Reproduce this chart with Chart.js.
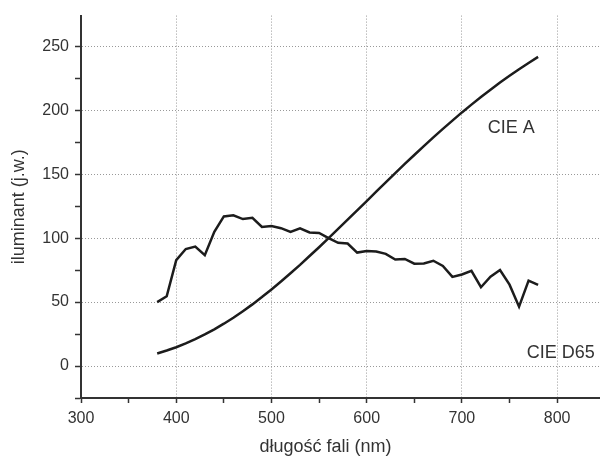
<!DOCTYPE html>
<html>
<head>
<meta charset="utf-8">
<script src="https://cdn.jsdelivr.net/npm/chart.js@4"></script>
<style>
  html, body { margin: 0; padding: 0; background: #fff; }
</style>
</head>
<body>
<canvas id="chart" width="600" height="457"></canvas>
<script>
// wavelengths, nm
const wavelengths = [380, 390, 400, 410, 420, 430, 440, 450, 460, 470, 480, 490, 500, 510, 520, 530, 540, 550, 560, 570,
    580, 590, 600, 610, 620, 630, 640, 650, 660, 670, 680, 690, 700, 710, 720, 730, 740, 750, 760, 770, 780];

const cieA = [9.8, 12.1, 14.7, 17.7, 21.0, 24.7, 28.7, 33.1, 37.8, 42.9, 48.2, 53.9, 59.9, 66.1, 72.5, 79.1, 86.0, 92.9, 100.0, 107.2,
    114.4, 121.7, 129.0, 136.4, 143.6, 150.8, 158.0, 165.0, 172.0, 178.8, 185.4, 191.9, 198.3, 204.4, 210.4, 216.1, 221.7, 227.0, 232.1, 237.0, 241.7];

const cieD65 = [50.0, 54.6, 82.8, 91.5, 93.4, 86.7, 104.9, 117.0, 117.8, 114.9, 115.9, 108.8, 109.4, 107.8, 104.8, 107.7, 104.4, 104.0, 100.0, 96.3,
    95.8, 88.7, 90.0, 89.6, 87.7, 83.3, 83.7, 80.0, 80.2, 82.3, 78.3, 69.7, 71.6, 74.4, 61.6, 69.9, 75.1, 63.6, 46.4, 66.8, 63.4];

const seriesNames = ['CIE A', 'CIE D65'];
const xTitle = 'długość fali (nm)';
const yTitle = 'iluminant (j.w.)';

const FONT = '"Liberation Sans", Arial, sans-serif';
const TEXT = '#333';

function toPoints(values) {
    return wavelengths.map((w, i) => ({ x: w, y: values[i] }));
}

// text labels next to the curves + x axis title
const labelPlugin = {
    id: 'labels',
    afterDraw(chart) {
        const { ctx, scales, chartArea } = chart;
        ctx.save();
        ctx.fillStyle = TEXT;
        ctx.font = '18px ' + FONT;
        ctx.textAlign = 'left';
        ctx.textBaseline = 'alphabetic';
        ctx.fillText(seriesNames[0], scales.x.getPixelForValue(727), scales.y.getPixelForValue(182));
        ctx.fillText(seriesNames[1], scales.x.getPixelForValue(768), scales.y.getPixelForValue(6));
        ctx.textAlign = 'center';
        ctx.textBaseline = 'middle';
        ctx.fillText(xTitle, (chartArea.left + chartArea.right) / 2 - 15, 447);
        ctx.restore();
    }
};

new Chart(document.getElementById('chart'), {
    type: 'line',
    data: {
        datasets: [
            { label: seriesNames[0], data: toPoints(cieA) },
            { label: seriesNames[1], data: toPoints(cieD65) }
        ]
    },
    options: {
        responsive: false,
        animation: false,
        layout: { padding: { top: 13, right: 0, left: 0, bottom: 0 } },
        elements: {
            line: { borderColor: '#1c1c1c', borderWidth: 2.5, tension: 0 },
            point: { radius: 0 }
        },
        plugins: {
            legend: { display: false },
            tooltip: { enabled: false }
        },
        scales: {
            x: {
                type: 'linear',
                min: 300,
                max: 845,
                afterFit: s => { s.height = 59; },
                ticks: {
                    stepSize: 50,
                    includeBounds: false,
                    autoSkip: false,
                    maxRotation: 0,
                    padding: 6,
                    color: TEXT,
                    font: { family: FONT, size: 16 },
                    callback: v => (v % 100 === 0 ? v : '')
                },
                grid: {
                    color: c => (c.tick && c.tick.value % 100 === 0 && c.tick.value > 300 ? '#999' : 'rgba(0,0,0,0)'),
                    lineWidth: 1,
                    tickColor: '#333',
                    tickLength: 5,
                    tickWidth: 1.5
                },
                border: { color: '#333', width: 2, dash: [1, 2] }
            },
            y: {
                min: -25,
                max: 274,
                afterFit: s => { s.width = 81; },
                ticks: {
                    stepSize: 25,
                    includeBounds: false,
                    autoSkip: false,
                    padding: 6,
                    color: TEXT,
                    font: { family: FONT, size: 16 },
                    callback: v => (v % 50 === 0 && v >= 0 ? v : '')
                },
                title: {
                    display: true,
                    text: yTitle,
                    color: TEXT,
                    font: { family: FONT, size: 18 },
                    padding: { top: 8, bottom: 0 }
                },
                grid: {
                    color: c => (c.tick && c.tick.value % 50 === 0 && c.tick.value >= 0 ? '#999' : 'rgba(0,0,0,0)'),
                    lineWidth: 1,
                    tickColor: '#333',
                    tickLength: 6,
                    tickWidth: 1.5
                },
                border: { color: '#333', width: 2, dash: [1, 2] }
            }
        }
    },
    plugins: [labelPlugin]
});
</script>
</body>
</html>
